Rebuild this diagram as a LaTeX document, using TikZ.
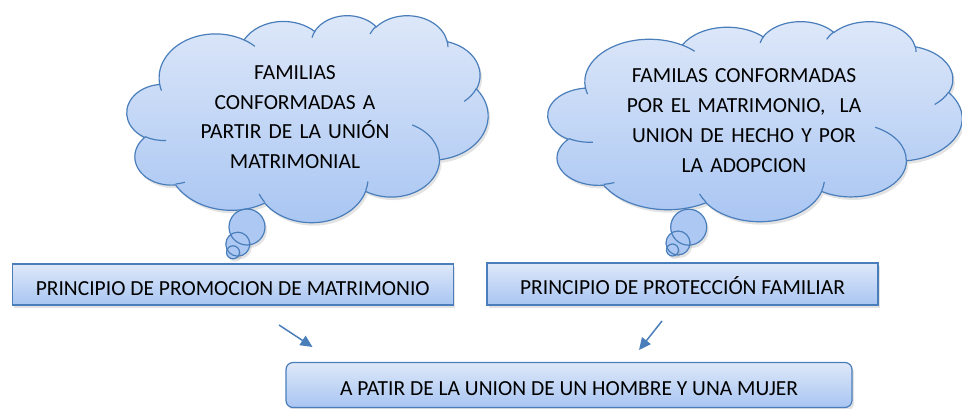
\documentclass[tikz,border=0pt]{standalone}
\usepackage{fontspec}
\setmainfont{Carlito}
\usetikzlibrary{arrows.meta,shadows}
\definecolor{edge}{RGB}{74,126,187}
\definecolor{topc}{RGB}{222,232,249}
\definecolor{botc}{RGB}{168,197,242}

% Word-style cloud outline, built from elliptical arcs (units: 1/10 of 43200 grid)
\newcommand\addarc[5]{%
  \pgfmathsetmacro\cpS{atan2((#2)*sin(#4),(#3)*cos(#4))}%
  \pgfmathsetmacro\cpE{atan2((#2)*sin((#4)+(#5)),(#3)*cos((#4)+(#5)))}%
  \pgfmathsetmacro\cpD{mod((\cpE)-(\cpS)+720,360)}%
  \xdef#1{#1 arc[start angle=\cpS, delta angle=\cpD, x radius=#2, y radius=#3]}}
\def\cloudoutline{(390,1437)}
\addarc\cloudoutline{675.3}{919.0}{-190.4875}{123.7805}
\addarc\cloudoutline{533.3}{726.7}{-144.1024}{89.9452}
\addarc\cloudoutline{436.5}{594.5}{-145.8079}{99.7230}
\addarc\cloudoutline{485.7}{659.5}{-130.9861}{117.2417}
\addarc\cloudoutline{533.3}{727.3}{-78.7089}{109.0269}
\addarc\cloudoutline{677.5}{922.0}{-46.2673}{130.2690}
\addarc\cloudoutline{578.5}{786.7}{0.6250}{114.0333}
\addarc\cloudoutline{675.2}{921.5}{22.4516}{115.1726}
\addarc\cloudoutline{772.0}{1054.3}{66.2426}{75.7110}
\addarc\cloudoutline{436.0}{591.8}{-274.9421}{146.7356}
\addarc\cloudoutline{434.5}{594.5}{-246.8285}{152.5226}
\def\cloudinner{}
\newcommand\addinner[6]{\xdef\cloudinner{\cloudinner (#1,#2)}\addarc\cloudinner{#3}{#4}{#5}{#6}}
\addinner{469.3}{2617.7}{434.5}{594.5}{86.742}{26.430}
\addinner{692.8}{3489.9}{436.0}{591.8}{73.610}{11.447}
\addinner{1647.8}{3909.0}{675.2}{921.5}{137.624}{14.081}
\addinner{2882.7}{3475.1}{675.2}{921.5}{6.453}{15.998}
\addinner{3412.9}{2295.4}{578.5}{786.7}{-70.292}{70.917}
\addinner{4179.8}{1535.4}{533.3}{727.3}{30.318}{27.752}
\addinner{3832.4}{542.6}{485.7}{659.5}{-13.744}{14.859}
\addinner{2907.8}{395.2}{485.7}{659.5}{-149.181}{18.195}
\addinner{2214.1}{472.0}{436.5}{594.5}{-163.494}{17.686}
\addinner{1400.0}{519.2}{675.3}{919.0}{-66.707}{12.319}
\addinner{412.7}{1578.9}{675.3}{919.0}{157.654}{11.858}

\tikzset{
  txt/.style={font=\fontsize{21.5}{29.5}\selectfont},
  shadowed/.style={drop shadow={opacity=0.22, shadow xshift=2pt, shadow yshift=-3pt}},
  gradfill/.style={top color=topc, bottom color=botc},
  outline/.style={draw=edge, line width=1.2pt},
  bubblefill/.style={fill=botc!90!topc},
  box/.style={outline, gradfill, shadowed, inner sep=0pt, text height=21pt, text depth=0pt, txt},
  arr/.style={draw=edge, line width=1.5pt, -{Triangle[length=12pt, width=11pt]}},
}

\begin{document}
\begin{tikzpicture}[x=1pt, y=-1pt]
\useasboundingbox (0,0) rectangle (962,409);

% ---- left cloud ----
\begin{scope}[shift={(127,15)}, x=0.083565pt, y=-0.047917pt]
  \path[shadowed, gradfill] \cloudoutline -- cycle;
\end{scope}
\path[shadowed, bubblefill] (247,227) circle[radius=18pt];
\path[shadowed, bubblefill] (237.8,244.2) circle[radius=12pt];
\path[shadowed, bubblefill] (233,252.3) circle[radius=6.5pt];
\begin{scope}[shift={(127,15)}, x=0.083565pt, y=-0.047917pt]
  \draw[outline] \cloudoutline -- cycle;
  \draw[outline] \cloudinner;
\end{scope}
\draw[outline] (247,227) circle[radius=18pt];
\draw[outline] (237.8,244.2) circle[radius=12pt];
\draw[outline] (233,252.3) circle[radius=6.5pt];
\node[txt, anchor=base, text width=300pt, align=center] (cloudL) at (295,80)
  {FAMILIAS\\CONFORMADAS A\\PARTIR DE LA UNIÓN\\MATRIMONIAL};

% ---- right cloud ----
\begin{scope}[shift={(548,21)}, x=0.095833pt, y=-0.046296pt]
  \path[shadowed, gradfill] \cloudoutline -- cycle;
\end{scope}
\path[shadowed, bubblefill] (688.7,227.2) circle[radius=18pt];
\path[shadowed, bubblefill] (678,243) circle[radius=12pt];
\path[shadowed, bubblefill] (672.5,250) circle[radius=6pt];
\begin{scope}[shift={(548,21)}, x=0.095833pt, y=-0.046296pt]
  \draw[outline] \cloudoutline -- cycle;
  \draw[outline] \cloudinner;
\end{scope}
\draw[outline] (688.7,227.2) circle[radius=18pt];
\draw[outline] (678,243) circle[radius=12pt];
\draw[outline] (672.5,250) circle[radius=6pt];
\node[anchor=base, text width=330pt, align=center, font=\fontsize{21.5}{30}\selectfont] (cloudR) at (744,83)
  {FAMILAS CONFORMADAS\\POR EL MATRIMONIO,~ LA\\UNION DE HECHO Y POR\\LA ADOPCION};

% ---- boxes ----
\node[box, minimum width=441pt, minimum height=41pt] (promo) at (232.7,284.5)
  {PRINCIPIO DE PROMOCION DE MATRIMONIO};
\node[box, minimum width=391pt, minimum height=42pt] (prot) at (682.5,284)
  {PRINCIPIO DE PROTECCIÓN FAMILIAR};
\node[box, rounded corners=7pt, minimum width=566pt, minimum height=45pt] (union) at (569,385)
  {A PATIR DE LA UNION DE UN HOMBRE Y UNA MUJER};

% ---- arrows ----
\coordinate (l1) at (279,325);
\coordinate (l2) at (312.5,347);
\coordinate (r1) at (662,321);
\coordinate (r2) at (639,350);
\draw[arr] (l1) -- (l2);
\draw[arr] (r1) -- (r2);
\end{tikzpicture}
\end{document}
